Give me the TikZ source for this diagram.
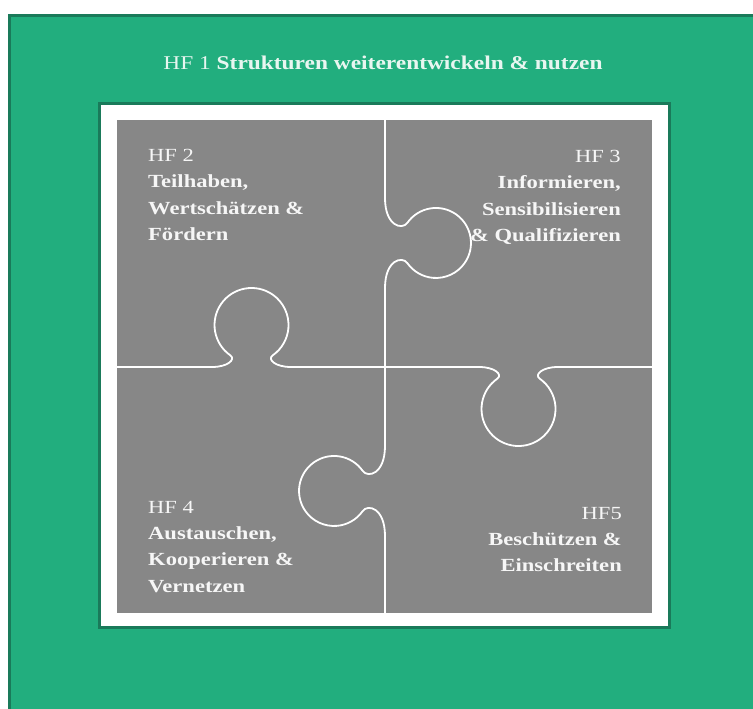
\documentclass[tikz,border=0pt]{standalone}
\usepackage{fontspec}
\setmainfont{Liberation Serif}
\newfontfamily\titleserif[FakeStretch=1.2]{Liberation Serif}
\newfontfamily\labelserif[FakeStretch=1.22]{Liberation Serif}
\definecolor{bggreen}{HTML}{22AE7E}
\definecolor{darkgreen}{HTML}{1A7A5A}
\definecolor{puzzlegray}{HTML}{878787}
\definecolor{titlewhite}{HTML}{E8F6F0}
\definecolor{labelwhite}{HTML}{F6F6F6}
\begin{document}
\begin{tikzpicture}[x=1pt,y=-1pt,
  puzzleline/.style={draw=white, line width=1.8pt, line join=round},
  hflabel/.style={text=labelwhite, inner sep=0pt, font=\labelserif\fontsize{18.5}{26.3}\selectfont},
  titlelabel/.style={text=titlewhite, inner sep=0pt, font=\titleserif\fontsize{19.5}{24}\selectfont}]
\useasboundingbox (0,0) rectangle (753,709);
\clip (0,0) rectangle (753,709);
\fill[white] (0,0) rectangle (753,709);
% outer green area
\draw[darkgreen, line width=3pt, fill=bggreen] (9.5,15.5) rectangle (770,730);
% inner white frame
\draw[darkgreen, line width=3pt, fill=white] (99.5,103.5) rectangle (669.5,627.5);
% gray puzzle square
\fill[puzzlegray] (117,120) rectangle (652,613);
% vertical puzzle line with two knobs
\draw[puzzleline] (385,120) -- (385,198)
  .. controls (385,226) and (402.1,230.3) .. (407.3,222.9)
  arc[start angle=215, end angle=505, radius=35]
  .. controls (402.1,255.7) and (385,260) .. (385,288)
  -- (385,446)
  .. controls (385,474) and (367.9,478.3) .. (362.7,470.9)
  arc[start angle=325, end angle=35, radius=35]
  .. controls (367.9,503.7) and (385,508) .. (385,536)
  -- (385,613);
% horizontal puzzle line with two knobs
\draw[puzzleline] (117,367) -- (212,367)
  .. controls (228,367) and (236,359.3) .. (230.3,355.3)
  arc[start angle=125, end angle=415, radius=37]
  .. controls (267,359.3) and (275,367) .. (291,367)
  -- (479,367)
  .. controls (495,367) and (503,374.7) .. (497.3,378.7)
  arc[start angle=235, end angle=-55, radius=37]
  .. controls (534,374.7) and (542,367) .. (558,367)
  -- (652,367);
% title
\node[titlelabel, anchor=base] (title) at (383,70) {HF 1 \textbf{Strukturen weiterentwickeln \& nutzen}};
% labels
\node[hflabel, anchor=north west, align=left] (hf2) at (148,149)
  {HF 2\\\textbf{Teilhaben,}\\\textbf{Wertschätzen \&}\\\textbf{Fördern}};
\node[hflabel, anchor=north east, align=right] (hf3) at (621,150)
  {HF 3\\\textbf{Informieren,}\\\textbf{Sensibilisieren}\\\textbf{\& Qualifizieren}};
\node[hflabel, anchor=north west, align=left] (hf4) at (148,501)
  {HF 4\\\textbf{Austauschen,}\\\textbf{Kooperieren \&}\\\textbf{Vernetzen}};
\node[hflabel, anchor=north east, align=right] (hf5) at (622,507)
  {HF5\\\textbf{Beschützen \&}\\\textbf{Einschreiten}};
\end{tikzpicture}
\end{document}
